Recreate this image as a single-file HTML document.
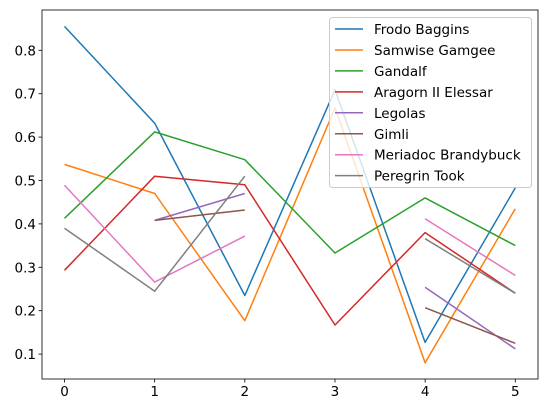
<!DOCTYPE html>
<html><head><meta charset="utf-8"><style>
html,body{margin:0;padding:0;background:#fff;}
svg{display:block;font-family:"DejaVu Sans","Liberation Sans",sans-serif;}
</style></head><body>
<svg id="chart" width="547" height="413"></svg>
<script>
const categories=[0,1,2,3,4,5];
const yTicks=[0.1,0.2,0.3,0.4,0.5,0.6,0.7,0.8];
const seriesNames=["Frodo Baggins","Samwise Gamgee","Gandalf","Aragorn II Elessar","Legolas","Gimli","Meriadoc Brandybuck","Peregrin Took"];
const frodo=[0.855,0.632,0.235,0.709,0.127,0.483];
const samwise=[0.537,0.47,0.177,0.667,0.08,0.435];
const gandalf=[0.413,0.612,0.548,0.333,0.46,0.35];
const aragorn=[0.293,0.51,0.49,0.167,0.38,0.24];
const legolas=[null,0.408,0.47,null,0.254,0.112];
const gimli=[null,0.408,0.432,null,0.207,0.125];
const merry=[0.489,0.266,0.372,null,0.412,0.281];
const pippin=[0.39,0.245,0.51,null,0.366,0.24];
const seriesValues=[frodo,samwise,gandalf,aragorn,legolas,gimli,merry,pippin];
const colors=["#1f77b4","#ff7f0e","#2ca02c","#d62728","#9467bd","#8c564b","#e377c2","#7f7f7f"];
const NS="http://www.w3.org/2000/svg";
const svg=document.getElementById("chart");
const L=42,R=538,T=10,B=379;
function xs(v){return 64.5+v*90.16;}
function ys(v){return 50.3+(0.8-v)*434;}
function mk(tag,attrs,parent){const e=document.createElementNS(NS,tag);for(const k in attrs)e.setAttribute(k,attrs[k]);(parent||svg).appendChild(e);return e;}
// series
seriesValues.forEach((vals,si)=>{
  let segs=[],cur=[];
  vals.forEach((v,i)=>{if(v===null){if(cur.length)segs.push(cur);cur=[];}else cur.push(xs(categories[i]).toFixed(1)+","+ys(v).toFixed(1));});
  if(cur.length)segs.push(cur);
  const g=mk("g",{});
  
  
  segs.forEach(s=>{if(s.length>1)mk("polyline",{points:s.join(" "),fill:"none",stroke:colors[si],"stroke-width":1.5,"stroke-linejoin":"round"},g);});
});
// axes frame
const frame=mk("rect",{x:L,y:T,width:R-L,height:B-T,fill:"none",stroke:"#000","stroke-width":0.8});


categories.forEach(c=>{
  const x=xs(c);
  mk("line",{x1:x,y1:B,x2:x,y2:B+3.5,stroke:"#000","stroke-width":0.8});
  const t=mk("text",{x:x,y:B+17,"text-anchor":"middle","font-size":"13.5px",fill:"#000"});
  t.textContent=c;
  
  
});
yTicks.forEach(v=>{
  const y=ys(v);
  mk("line",{x1:L-3.5,y1:y,x2:L,y2:y,stroke:"#000","stroke-width":0.8});
  const t=mk("text",{x:L-6,y:y+5,"text-anchor":"end","font-size":"13.5px",fill:"#000"});
  t.textContent=v.toFixed(1);
  
  
});
// legend
const lg=mk("g",{});


mk("rect",{x:329.5,y:17.5,width:202,height:170,rx:3,fill:"#fff","fill-opacity":0.8,stroke:"#ccc","stroke-width":1},lg);
seriesNames.forEach((n,i)=>{
  const y=29+i*20.95;
  const e=mk("g",{},lg);
  
  
  mk("line",{x1:335,y1:y,x2:363,y2:y,stroke:colors[i],"stroke-width":1.5},e);
  const t=mk("text",{x:374,y:y+5,"font-size":"13.5px",fill:"#000"},e);
  t.textContent=n;
});
</script>
</body></html>
